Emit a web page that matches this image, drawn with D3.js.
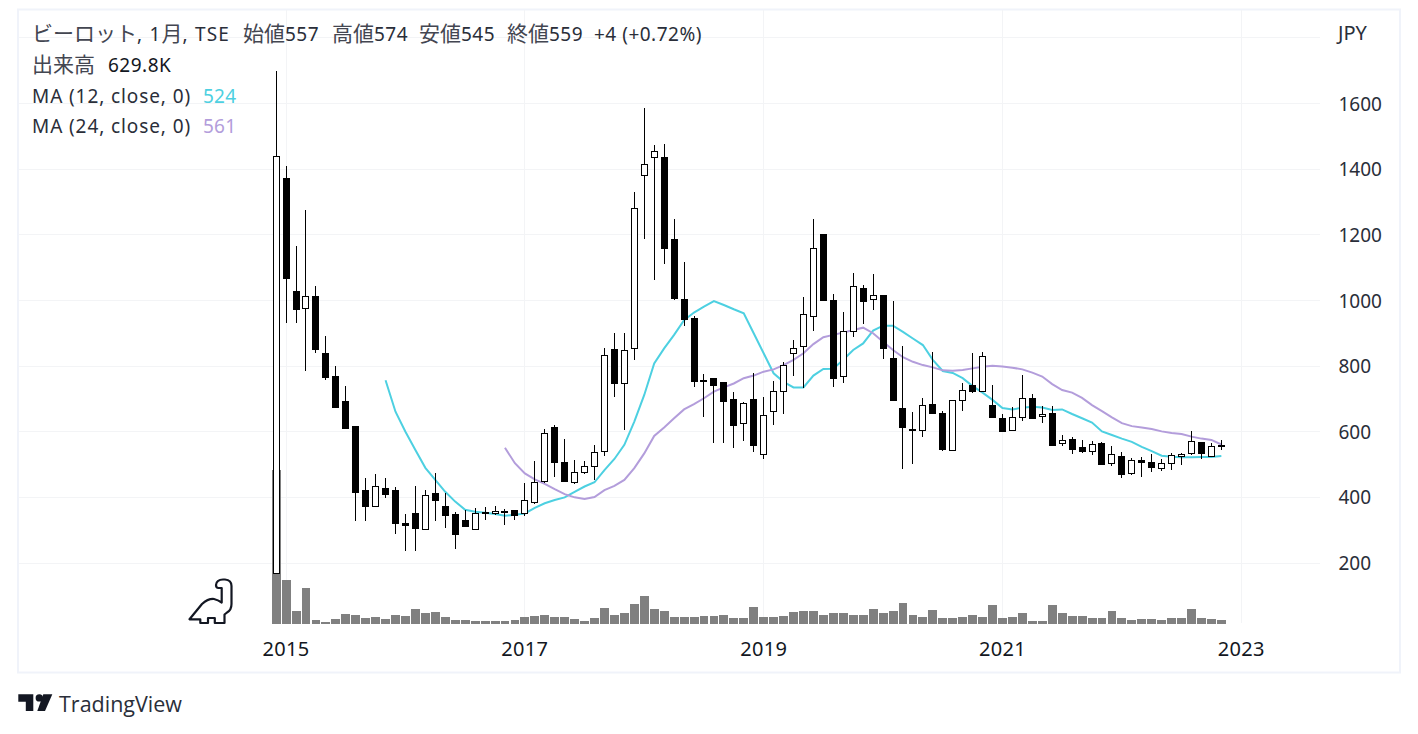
<!DOCTYPE html>
<html>
<head>
<meta charset="utf-8">
<script src="https://cdn.jsdelivr.net/npm/d3@7"></script>
<style>
html, body { margin: 0; padding: 0; background: #fff; }
svg { display: block; }
text { font-family: "Noto Sans", "Noto Sans CJK JP", sans-serif; font-size: 19px; fill: #2a2e39; }
tspan.cjk { font-family: "Noto Sans CJK JP", sans-serif; font-size: 21px; letter-spacing: 0; fill: #434651; }
</style>
</head>
<body>
<svg id="chart" width="1418" height="734"></svg>
<script>
// monthly candles, Dec 2014 - Nov 2022
var opens = [169,1373,1029,975,1013,839,770,694,617,422,372,428,422,322,352,303,413,374,349,331,303,354,351,358,362,351,384,448,614,507,445,478,493,539,852,748,854,1381,1439,1437,1187,1004,946,758,764,752,700,628,700,530,662,723,839,860,952,1202,1001,769,906,1037,1003,1017,825,672,607,604,684,656,545,696,741,723,681,642,604,644,703,646,657,564,578,553,540,566,503,526,472,514,508,490,503,524,533,568,527,557];
var highs = [1699,1410,1166,1276,1044,892,800,739,617,459,471,459,432,349,435,422,474,413,355,362,368,371,374,364,362,444,511,607,620,578,514,510,560,854,900,900,1329,1585,1473,1477,1247,1116,953,776,764,752,720,691,778,705,756,812,880,1010,1248,1202,1020,965,1084,1047,1081,1017,998,861,660,703,843,662,696,748,840,843,742,654,675,773,715,678,678,589,583,574,571,568,556,538,520,523,532,517,535,535,602,568,566,574];
var lows = [169,932,932,786,839,758,676,612,329,329,372,398,288,238,238,303,329,307,244,313,303,331,346,316,331,343,381,443,463,448,441,471,453,526,707,605,819,1188,1063,1112,1001,923,737,646,567,567,551,573,539,516,621,655,771,734,908,1002,737,749,889,929,972,822,695,487,503,585,658,542,542,664,719,723,643,603,604,634,640,628,560,557,533,536,530,503,496,459,469,462,477,480,483,499,529,517,524,545];
var closes = [1439,1069,975,1012,853,765,676,612,417,372,434,411,320,316,307,406,392,346,288,313,352,351,358,354,346,391,446,595,506,448,476,495,537,833,749,848,1281,1415,1456,1161,1008,943,755,755,743,694,621,688,560,650,723,802,854,958,1159,1002,762,906,1043,996,1016,856,697,615,603,681,658,545,696,726,722,830,645,603,644,702,642,653,560,574,548,542,562,503,531,471,513,508,493,504,528,531,571,536,556,559];
var volumes = [23100,6620,1965,5380,570,260,725,1500,1345,880,1035,725,1345,1190,2275,1655,1810,1035,570,570,415,415,415,415,570,1035,1190,1345,1035,1035,725,415,880,2430,1345,1655,3050,4135,2275,1965,1035,1035,1035,1190,1240,1395,930,930,2480,1085,1085,1240,1860,2015,2015,1395,1705,1705,1395,1395,2325,1705,2015,3100,1395,1085,2170,930,930,1085,1395,1085,2790,930,1085,1705,465,465,2790,1705,1240,1240,930,930,2015,930,620,775,775,620,930,930,2325,930,775,630];

var ma12Start = 11;
var ma12 = [757,661,600,544,490,453,417,387,362,356,353,349,344,347,351,368,382,392,400,417,433,446,483,517,560,631,712,808,854,895,940,963,981,998,986,973,961,900,839,778,752,735,735,771,791,792,819,849,869,908,923,923,904,884,864,819,785,779,763,739,719,697,672,668,673,676,674,666,668,654,641,628,601,590,579,569,554,541,527,524,522,522,523,523,526];
var ma24Start = 23;
var ma24 = [551,504,473,455,441,425,410,400,395,401,422,435,453,489,534,587,613,641,668,684,702,722,735,747,763,771,783,790,803,819,839,867,888,895,902,910,917,900,874,849,827,813,803,796,787,786,788,793,798,801,799,795,790,780,768,745,727,719,703,681,663,644,626,617,613,608,601,596,593,585,579,575,561];

var priceTicks = [200,400,600,800,1000,1200,1400,1600];
var yearTicks = [1,25,49,73,97];
var yearLabels = ["2015","2017","2019","2021","2023"];
var gridPrices = priceTicks.concat([1800]);

var svg = d3.select("#chart");

var x = d3.scaleLinear().domain([0,95]).range([276.1,1221.35]);
var y = d3.scaleLinear().domain([200,1600]).range([563,103.5]);
var v = d3.scaleLinear().domain([0,23100]).range([624,470]);

function crisp(n) { return Math.floor(n) + 0.5; }

// frame
svg.append("rect")
    .attr("x",18).attr("y",9.5).attr("width",1382).attr("height",663)
    .attr("fill","#fff").attr("stroke","#f0f3fa").attr("stroke-width",2);

// grid
svg.append("g").selectAll("line")
    .data(gridPrices).enter().append("line")
    .attr("x1",19).attr("x2",1320)
    .attr("y1",function(d) { return crisp(y(d)); })
    .attr("y2",function(d) { return crisp(y(d)); })
    .attr("stroke","#f3f4f6");

svg.append("g").selectAll("line")
    .data(yearTicks).enter().append("line")
    .attr("y1",10).attr("y2",623)
    .attr("x1",function(d) { return crisp(x(d)); })
    .attr("x2",function(d) { return crisp(x(d)); })
    .attr("stroke","#f3f4f6");

// volume
svg.append("g").attr("shape-rendering","crispEdges").selectAll("rect")
    .data(volumes).enter().append("rect")
    .attr("x",function(d,i) { return x(i) - 4.4; })
    .attr("width",8.9)
    .attr("y",function(d) { return v(d); })
    .attr("height",function(d) { return v(0) - v(d); })
    .attr("fill","#808080");

// moving averages, drawn under the candles
var maLine = d3.line()
    .x(function(d) { return x(d.i); })
    .y(function(d) { return y(d.p); });

function maPoints(vals, start) {
    return vals.map(function(p,k) { return {i:start+k, p:p}; });
}

svg.append("path").datum(maPoints(ma12,ma12Start))
    .attr("d",maLine).attr("fill","none").attr("stroke","#4dd0e1").attr("stroke-width",2);
svg.append("path").datum(maPoints(ma24,ma24Start))
    .attr("d",maLine).attr("fill","none").attr("stroke","#b39ddb").attr("stroke-width",2);

// candles
var candle = svg.append("g").attr("shape-rendering","crispEdges").selectAll("g")
    .data(opens).enter().append("g");

candle.append("line")
    .attr("x1",function(d,i) { return crisp(x(i)); })
    .attr("x2",function(d,i) { return crisp(x(i)); })
    .attr("y1",function(d,i) { return y(highs[i]); })
    .attr("y2",function(d,i) { return y(lows[i]); })
    .attr("stroke","#000");

candle.append("rect")
    .attr("x",function(d,i) { return crisp(x(i)) - 3; })
    .attr("width",6)
    .attr("y",function(d,i) { return Math.round(y(Math.max(opens[i],closes[i]))) + 0.5; })
    .attr("height",function(d,i) { return Math.max(1, Math.round(Math.abs(y(opens[i]) - y(closes[i])))); })
    .attr("fill",function(d,i) { return closes[i] >= opens[i] ? "#fff" : "#000"; })
    .attr("stroke","#000");

// axes
var yAxis = d3.axisRight(y).tickValues(priceTicks).tickFormat(d3.format("d")).tickSize(0).tickPadding(0);
var gy = svg.append("g").attr("transform","translate(1338.5,0.5)").call(yAxis);
gy.select(".domain").remove();
gy.selectAll("text").style("font-family",'"Noto Sans"').style("font-size","19px").style("fill","#2a2e39");

var xAxis = d3.axisBottom(x).tickValues(yearTicks)
    .tickFormat(function(d,i) { return yearLabels[i]; })
    .tickSize(0).tickPadding(0);
var gx = svg.append("g").attr("transform","translate(-0.5,641.8)").call(xAxis);
gx.select(".domain").remove();
gx.selectAll("text").style("font-family",'"Noto Sans"').style("font-size","20px").style("letter-spacing","0.3px").style("fill","#131722");

svg.append("text").attr("x",1338).attr("y",40).style("font-size","20px").text("JPY");

// legend text: kana and kanji run larger than the latin in the original
function addLabel(px, py, str, spacing, colour) {
    var t = svg.append("text").attr("x",px).attr("y",py).style("letter-spacing",spacing + "px");
    if (colour) t.style("fill",colour);
    str.match(/[\u3000-\u9fff]+|[^\u3000-\u9fff]+/g).forEach(function(run) {
        var s = t.append("tspan").text(run);
        if (/[\u3000-\u9fff]/.test(run)) s.attr("class","cjk");
    });
}

var titleX = [32,243,332,419,507,594];
var titleTexts = ["ビーロット, 1月, TSE","始値557","高値574","安値545","終値559","+4 (+0.72%)"];
var titleSpacing = [1.2,0.5,0.5,0.5,0.5,0.5];
titleTexts.forEach(function(s,i) { addLabel(titleX[i],41,s,titleSpacing[i]); });

addLabel(32,72,"出来高",0);
addLabel(108,72,"629.8K",0.5,"#131722");
addLabel(32,103,"MA (12, close, 0)",0.9);
addLabel(203,103,"524",0.2,"#4dd0e1");
addLabel(32,133,"MA (24, close, 0)",0.9);
addLabel(203,133,"561",0.2,"#b39ddb");

// dino
svg.append("path")
    .attr("d","M189.5 619.3 L202 604 Q208 598.5 214 599 Q218 600 221.7 602.5 L221.7 588 L218.5 588 Q216 588 216 585 Q216.5 579.5 223 579.5 L225 579.5 Q231.5 580 231.5 586 L231.5 604 Q231.5 610 227 612.5 L224.5 614.5 L224.5 623 L214.8 623 L214.8 618 L208 618 L208 623 L200.3 623 L200.3 619.3 Z")
    .attr("fill","none").attr("stroke","#131722").attr("stroke-width",2.2).attr("stroke-linejoin","round");

// footer logo
svg.append("path").attr("d","M18.3 694.3 H33.3 V711 H25.8 V701.8 H18.3 Z").attr("fill","#131722");
svg.append("circle").attr("cx",39.3).attr("cy",697.9).attr("r",3.7).attr("fill","#131722");
svg.append("path").attr("d","M43.3 694.3 H52.3 L45 711 H37.3 Z").attr("fill","#131722");
svg.append("text").attr("x",59).attr("y",711.5).style("font-family",'"Open Sans"').style("font-size","21.5px").text("TradingView");
</script>
</body>
</html>
